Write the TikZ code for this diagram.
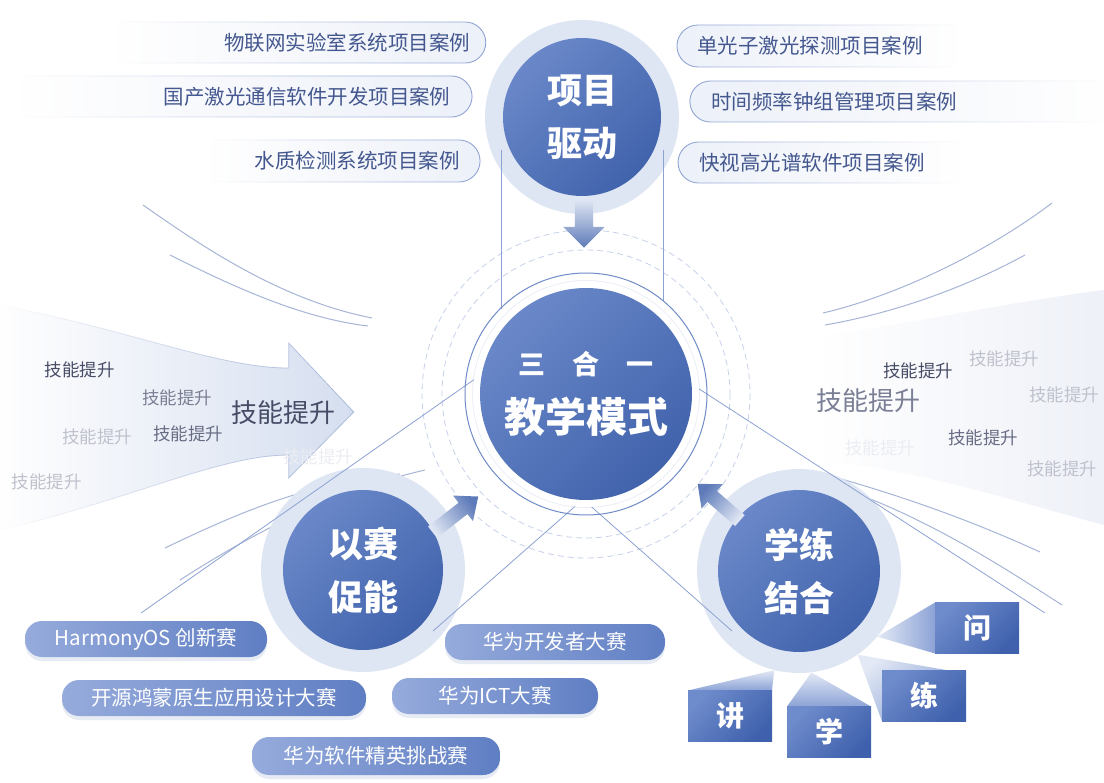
\documentclass[tikz,border=0pt]{standalone}
\usepackage{fontspec}
\setmainfont{Noto Sans CJK SC}
\usepackage{xcolor}
\usepackage{tikz}
\usetikzlibrary{shapes.arrows,arrows.meta,positioning,calc,fadings,shadows}

\newcommand{\pxfont}[1]{\fontsize{#1}{#1}\selectfont}

\definecolor{hubL}{HTML}{6A88C9}
\definecolor{hubD}{HTML}{4163AC}
\definecolor{halocol}{HTML}{DFE6F3}
\definecolor{lineblue}{HTML}{6F8BC8}
\definecolor{swooshcol}{HTML}{4E6AAE}
\definecolor{dashcol}{HTML}{C6D1EA}
\definecolor{casetext}{HTML}{44588F}
\definecolor{caseedge}{HTML}{8FA4D4}
\definecolor{casefill}{HTML}{EDF1F9}
\definecolor{pillL}{HTML}{96ABDC}
\definecolor{pillR}{HTML}{5F7EC3}
\definecolor{verbL}{HTML}{6E8BCB}
\definecolor{verbD}{HTML}{3F61AD}
\definecolor{beamL}{HTML}{E3E9F5}
\definecolor{beamD}{HTML}{8CA3D6}
\definecolor{flowcol}{HTML}{D6DFF0}
\definecolor{flowedge}{HTML}{A9B8DA}
\definecolor{wedgecol}{HTML}{EEF1F8}
\definecolor{skA}{HTML}{474C66}
\definecolor{skB}{HTML}{7A7F95}
\definecolor{skC}{HTML}{686D85}
\definecolor{skD}{HTML}{BFC2CD}
\definecolor{skE}{HTML}{EBEDF3}

\tikzfading[name=fade in east, left color=transparent!100, middle color=transparent!30, right color=transparent!0]
\tikzfading[name=fade in west, left color=transparent!0, middle color=transparent!30, right color=transparent!100]

\tikzstyle{hub} = [circle, inner sep=0pt, align=center, text=white,
                   top color=hubL, bottom color=hubD, shading angle=45,
                   font=\bfseries\fontsize{35}{53}\selectfont]
\tikzstyle{halo} = [circle, inner sep=0pt, fill=halocol]
\tikzstyle{casetxt} = [inner sep=0pt, text=casetext, font=\pxfont{20.5}]
\tikzstyle{casepillE} = [draw=caseedge, line width=0.9pt, fill=casefill,
                         path fading=fade in east]
\tikzstyle{casepillW} = [draw=caseedge, line width=0.9pt, fill=casefill,
                         path fading=fade in west]
\tikzstyle{cuppill} = [rectangle, rounded corners=17pt, minimum height=36pt,
                       inner sep=0pt, text=white, font=\pxfont{20.5},
                       left color=pillL, right color=pillR,
                       drop shadow={shadow xshift=0pt, shadow yshift=-4pt,
                                    opacity=0.12, fill=hubD}]
\tikzstyle{verb} = [rectangle, minimum width=84pt, minimum height=51pt,
                    inner sep=0pt, top color=verbL, bottom color=verbD,
                    shading angle=45, text=white,
                    font=\bfseries\pxfont{28}]
\tikzstyle{fatarrow} = [single arrow, inner xsep=0pt, minimum width=0pt,
                        top color=halocol, bottom color=hubD!85]
\tikzstyle{swoosh} = [swooshcol, line width=1pt, opacity=0.5]
\tikzstyle{guide} = [lineblue!80, line width=0.8pt]
\tikzstyle{skill} = [inner sep=0pt, font=\pxfont{17.5}]
\tikzstyle{skillbig} = [inner sep=0pt, font=\pxfont{26}]

\begin{document}
\begin{tikzpicture}[x=1pt, y=-1pt]
  \useasboundingbox (0,0) rectangle (1104,783);
  \fill[white] (0,0) rectangle (1104,783);

  % skill flows
  \path[fill=flowcol, draw=flowedge, line width=0.8pt, path fading=fade in east]
    (0,305) .. controls (130,330) and (220,368) .. (289,368) -- (289,343)
    -- (354,412) -- (289,478) -- (289,455)
    .. controls (220,455) and (130,500) .. (0,530) -- cycle;
  \path[fill=wedgecol, path fading=fade in east]
    (822,336) .. controls (920,322) and (1010,302) .. (1104,290) -- (1104,525)
    .. controls (1010,500) and (920,470) .. (826,462) -- cycle;

  % swooshes
  \draw[swoosh] (143,205) .. controls (200,245) and (280,300) .. (372,318);
  \draw[swoosh] (170,255) .. controls (230,285) and (300,318) .. (368,326);
  \draw[swoosh] (823,313) .. controls (900,295) and (990,250) .. (1052,203);
  \draw[swoosh] (825,325) .. controls (900,312) and (970,285) .. (1025,255);
  \draw[swoosh] (165,548) .. controls (240,512) and (310,482) .. (400,474);
  \draw[swoosh] (180,580) .. controls (250,535) and (330,492) .. (425,470);
  \draw[swoosh] (820,473) .. controls (900,495) and (970,520) .. (1040,552);
  \draw[swoosh] (847,490) .. controls (930,520) and (1000,565) .. (1062,605);

  % rings round the core
  \draw[dashcol, line width=0.8pt, dash pattern=on 6pt off 4pt] (586,394) circle[radius=144];
  \draw[dashcol, line width=0.8pt, dash pattern=on 6pt off 4pt] (586,394) circle[radius=164];

  % case lists
  \path[casepillE] (116,22) -- (465.5,22) arc[start angle=-90, end angle=90, radius=20.5] -- (116,63);
  \path[casepillE] (21,76) -- (451.5,76) arc[start angle=-90, end angle=90, radius=20.5] -- (21,117);
  \path[casepillE] (211,140) -- (459,140) arc[start angle=-90, end angle=90, radius=21] -- (211,182);
  \path[casepillW] (957,25) -- (698,25) arc[start angle=-90, end angle=-270, radius=21] -- (957,67);
  \path[casepillW] (1104,81) -- (710.5,81) arc[start angle=-90, end angle=-270, radius=20.5] -- (1104,122);
  \path[casepillW] (960,142) -- (698.5,142) arc[start angle=-90, end angle=-270, radius=20.5] -- (960,183);
  \node[casetxt] (caseA) at (347,43)  {物联网实验室系统项目案例};
  \node[casetxt] (caseB) at (307,97)  {国产激光通信软件开发项目案例};
  \node[casetxt] (caseC) at (357,161) {水质检测系统项目案例};
  \node[casetxt] (caseD) at (810,46)  {单光子激光探测项目案例};
  \node[casetxt] (caseE) at (834,102) {时间频率钟组管理项目案例};
  \node[casetxt] (caseF) at (812,163) {快视高光谱软件项目案例};

  % halos
  \node[halo, minimum size=194pt] (proj-halo) at (582,117) {};
  \node[halo, minimum size=204pt] (comp-halo) at (363,570) {};
  \node[halo, minimum size=204pt] (prac-halo) at (799,571) {};
  \fill[hubD, opacity=0.10] (586,394) circle[radius=114];

  % guide lines
  \draw[guide] (501,150) -- (501,309);
  \draw[guide] (663,150) -- (663,301);
  \draw[guide] (580,502) -- (433,631);
  \draw[guide] (586,502) -- (732,631);
  \draw[guide] (482,374) -- (141,613);
  \draw[guide] (693,385) -- (1045,613);

  % hubs
  \fill[white] (586,394) circle[radius=113];
  \draw[lineblue, line width=1pt] (586,394) circle[radius=121];
  \node[hub, minimum size=212pt] (core) at (586,394)
    {{\pxfont{27}三\hspace{27pt}合\hspace{27pt}一}\\[5pt]{\pxfont{41}教学模式}};
  \node[hub, minimum size=158pt] (proj) at (582,117) {项目\\驱动};
  \node[hub, minimum size=160pt] (comp) at (363,570) {以赛\\促能};
  \node[hub, minimum size=162pt] (prac) at (799,571) {学练\\结合};

  % arrows into the core
  \node[fatarrow, rotate=-90, inner ysep=9pt, single arrow head extend=11.5pt,
        minimum height=48pt, shading angle=0] (projin) at (584,219) {};
  \node[fatarrow, rotate=38, inner ysep=7pt, single arrow head extend=9pt,
        single arrow tip angle=80, minimum height=58pt, shading angle=128] (compin) at (452,517) {};
  \node[fatarrow, rotate=139, inner ysep=7pt, single arrow head extend=9pt,
        single arrow tip angle=80, minimum height=56pt, shading angle=229] (pracin) at (722,505) {};

  % contests
  \node[cuppill, minimum width=242pt] (hmos)  at (146,639) {HarmonyOS 创新赛};
  \node[cuppill, minimum width=304pt] (oh)    at (214,698) {开源鸿蒙原生应用设计大赛};
  \node[cuppill, minimum width=248pt, minimum height=38pt] (elite) at (376,756) {华为软件精英挑战赛};
  \node[cuppill, minimum width=220pt] (hdc)   at (555,642) {华为开发者大赛};
  \node[cuppill, minimum width=206pt] (ict)   at (495,696) {华为ICT大赛};

  % learn / practise boxes
  \coordinate (wen)   at (977,628);
  \coordinate (lian)  at (924,696);
  \coordinate (xue)   at (829,732);
  \coordinate (jiang) at (730,716);
  \shade[left color=beamL, right color=beamD]
    ($(wen)+(-42,-25.5)$) -- (prac-halo.-40) -- ($(wen)+(-42,25.5)$) -- cycle;
  \shade[top color=beamL, bottom color=beamD, shading angle=40]
    ($(lian)+(25,-25.5)$) -- (prac-halo.-55) -- ($(lian)+(-42,25.5)$) -- cycle;
  \shade[top color=beamL, bottom color=beamD]
    ($(xue)+(-42,-25.5)$) -- (prac-halo.-83) -- ($(xue)+(42,-25.5)$) -- cycle;
  \shade[top color=beamL, bottom color=beamD]
    ($(jiang)+(-42,-25.5)$) -- (prac-halo.-104) -- ($(jiang)+(42,-25.5)$) -- cycle;
  \node[verb] (wen-box)   at (wen)   {问};
  \node[verb] (lian-box)  at (lian)  {练};
  \node[verb] (xue-box)   at (xue)   {学};
  \node[verb] (jiang-box) at (jiang) {讲};

  % skill labels
  \node[skill, text=skA] (skL1) at (80,370)  {技能提升};
  \node[skill, text=skB] (skL2) at (177,398) {技能提升};
  \node[skill, text=skD] (skL3) at (97,437)  {技能提升};
  \node[skill, text=skC] (skL4) at (188,434) {技能提升};
  \node[skill, text=skD] (skL5) at (47,482)  {技能提升};
  \node[skill, text=skE] (skL6) at (318,457) {技能提升};
  \node[skillbig, text=skA] (skL0) at (283,413) {技能提升};
  \node[skill, text=skA] (skR1) at (918,371)  {技能提升};
  \node[skill, text=skD] (skR2) at (1004,359) {技能提升};
  \node[skill, text=skD] (skR3) at (1064,395) {技能提升};
  \node[skill, text=skC] (skR4) at (983,438)  {技能提升};
  \node[skill, text=skD] (skR5) at (1062,469) {技能提升};
  \node[skill, text=skE] (skR6) at (880,448)  {技能提升};
  \node[skillbig, text=skB] (skR0) at (868,401) {技能提升};
\end{tikzpicture}
\end{document}
